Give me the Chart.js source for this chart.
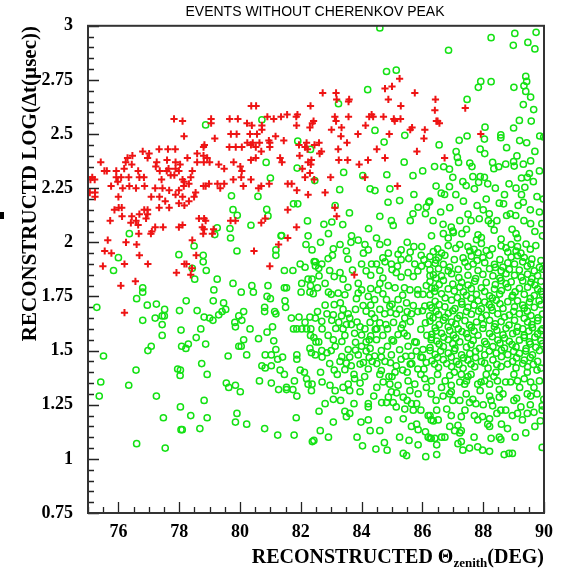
<!DOCTYPE html>
<html><head><meta charset="utf-8">
<script src="https://cdn.jsdelivr.net/npm/chart.js@4.4.1/dist/chart.umd.min.js"></script>
<style>html,body{margin:0;padding:0;background:#fff;}canvas{display:block;}</style>
</head><body>
<canvas id="c" width="562" height="573"></canvas>
<script>
const chartTitle = "EVENTS WITHOUT CHERENKOV PEAK";
const yTitle = "RECONSTRUCTD LOG(\u0394t(\u00b5sec))";
const xTitleMain = "RECONSTRUCTED \u0398";
const xTitleSub = "zenith";
const xTitleEnd = "(DEG)";
const xTicks = [76, 78, 80, 82, 84, 86, 88, 90];
const xTickLabels = ["76", "78", "80", "82", "84", "86", "88", "90"];
const yTicks = [0.75, 1, 1.25, 1.5, 1.75, 2, 2.25, 2.5, 2.75, 3];
const yTickLabels = ["0.75", "1", "1.25", "1.5", "1.75", "2", "2.25", "2.5", "2.75", "3"];

// Red crosses: events with short reconstructed delay (upper-left band)
const redUpper = [
[80.37,2.63],[80.53,2.63],[82.32,2.63],[77.83,2.57],[78.11,2.56],[79.05,2.57],[79.05,2.55],[79.66,2.57],[79.93,2.57],
[80.23,2.55],[80.39,2.54],[80.9,2.58],[81.11,2.57],[81.35,2.58],[81.55,2.59],[81.85,2.58],[81.89,2.59],[81.86,2.54],
[80.72,2.54],[80.72,2.52],[78.16,2.49],[79.17,2.48],[79.7,2.50],[79.89,2.50],[80.33,2.50],[80.56,2.50],[80.24,2.46],
[80.42,2.46],[80.64,2.46],[80.95,2.47],[81.17,2.49],[81.44,2.47],[82.19,2.46],[82.45,2.45],[78.83,2.45],[78.8,2.44],
[79.65,2.44],[79.86,2.44],[80.06,2.44],[80.36,2.45],[80.52,2.44],[80.7,2.42],[80.98,2.44],[80.98,2.46],[81.32,2.39],
[81.38,2.37],[81.94,2.45],[82.14,2.44],[81.96,2.40],[82.24,2.37],[82.35,2.38]
];
const redMiddle = [
[76.46,2.40],[76.3,2.39],[76.44,2.36],[76.24,2.37],[76.8,2.42],[77.01,2.41],[76.96,2.39],[77.34,2.43],[77.63,2.43],
[77.87,2.43],[77.26,2.37],[77.23,2.35],[77.6,2.38],[77.65,2.34],[77.88,2.37],[78.03,2.36],[77.88,2.34],[78.27,2.39],
[78.59,2.41],[78.59,2.37],[78.43,2.33],[78.8,2.40],[78.92,2.39],[79.0,2.37],[78.81,2.37],[79.3,2.36],[79.48,2.34],
[79.79,2.37],[80.01,2.35],[80.06,2.33],[80.36,2.38],[80.52,2.39],[75.42,2.37],[75.54,2.33],[75.62,2.33],[75.22,2.29],
[75.14,2.30],[75.08,2.29],[75.06,2.23],[75.93,2.33],[75.93,2.30],[76.19,2.34],[76.09,2.30],[76.34,2.30],[76.65,2.33],
[76.69,2.30],[76.84,2.30],[77.36,2.33],[77.42,2.29],[77.59,2.33],[77.72,2.31],[77.99,2.33],[78.11,2.29],[78.16,2.28],
[77.84,2.31],[78.38,2.30],[78.32,2.27],[78.8,2.26],[78.87,2.26],[78.98,2.27],[79.26,2.27],[79.48,2.27],[79.35,2.25],
[79.78,2.29],[80.04,2.30],[80.11,2.26],[80.36,2.29],[80.61,2.25],[80.7,2.26],[80.96,2.27],[81.57,2.27],[81.7,2.27],
[82.24,2.22],[75.76,2.26],[75.98,2.28],[76.14,2.25],[76.36,2.26],[76.58,2.25],[76.86,2.26],[77.08,2.21],[77.21,2.25],
[77.45,2.25],[77.35,2.21],[77.54,2.19],[77.67,2.24],[77.99,2.24],[78.15,2.26],[77.88,2.22],[78.49,2.21],[78.54,2.23],
[78.11,2.21],[75.23,2.23],[75.23,2.21]
];
const redLower = [
[76.0,2.21],[76.11,2.16],[76.01,2.16],[75.87,2.15],[76.12,2.12],[75.73,2.10],[76.44,2.12],[76.69,2.13],[76.58,2.10],
[76.85,2.15],[76.96,2.13],[76.41,2.09],[76.65,2.08],[77.07,2.04],[77.1,2.05],[76.67,2.04],[76.25,2.00],[76.6,1.99],
[76.91,2.11],[76.96,2.15],[77.34,2.16],[77.47,2.07],[77.21,2.07],[77.67,2.16],[77.99,2.18],[77.99,2.07],[78.11,2.08],
[78.32,2.19],[78.17,2.17],[78.65,2.11],[78.82,2.11],[78.87,2.10],[78.76,2.07],[78.82,2.06],[78.79,2.04],[79.09,2.04],
[79.13,2.06],[79.69,2.10],[79.85,2.10],[80.7,2.09],[80.83,2.11],[75.65,2.01],[75.55,1.96],[75.77,1.95],[75.49,1.89],
[76.2,1.90],[76.08,1.80],[76.56,1.82],[76.69,1.94],[76.97,1.90],[78.43,2.01],[78.56,1.94],[78.17,1.90],[77.91,1.86],
[78.42,1.88],[78.24,1.90],[78.38,1.85],[76.2,1.675],[80.46,1.96],[80.98,1.89],[81.27,1.99],[81.57,2.02],[81.86,2.07],
[81.57,2.15],[81.87,2.24],[82.14,2.30],[82.05,2.34]
];
const redRight = [
[85.25,2.756],[85.0,2.72],[84.77,2.71],[85.75,2.69],[84.88,2.66],[85.29,2.63],[86.43,2.66],[86.41,2.61],[86.5,2.56],
[86.56,2.55],[86.46,2.56],[87.41,2.62],[82.72,2.69],[83.16,2.69],[83.18,2.66],[83.59,2.66],[83.57,2.65],[83.12,2.58],
[83.16,2.56],[83.57,2.58],[82.42,2.56],[82.38,2.55],[82.3,2.53],[83.01,2.52],[83.34,2.53],[83.32,2.49],[83.52,2.46],
[83.88,2.50],[84.25,2.58],[84.33,2.59],[84.38,2.58],[84.13,2.54],[84.72,2.58],[85.06,2.57],[85.28,2.57],[85.09,2.56],
[84.91,2.50],[85.6,2.52],[85.66,2.53],[86.08,2.52],[86.05,2.48],[82.22,2.43],[82.6,2.46],[82.68,2.42],[82.62,2.41],
[82.33,2.36],[82.3,2.32],[82.44,2.29],[82.98,2.30],[82.8,2.23],[83.23,2.43],[83.25,2.38],[83.54,2.38],[83.92,2.36],
[84.21,2.38],[84.5,2.43],[84.77,2.39],[84.11,2.30],[85.18,2.26],[85.82,2.42],[86.73,2.39],[87.92,2.50],[83.12,2.16],
[83.18,2.12],[83.76,1.85]
];

// Green open circles
const greenLeft = [
[78.87,2.542],[80.72,2.566],[81.9,2.468],[82.32,2.429],[82.46,2.285],[81.88,2.343],[80.86,2.369],[81.0,2.297],
[79.72,2.215],[80.59,2.212],[79.77,2.151],[79.91,2.125],[80.88,2.152],[80.92,2.122],[81.76,2.178],[81.9,2.178],
[79.25,2.067],[79.17,2.036],[79.67,2.064],[80.36,2.079],[81.37,2.031],[82.22,2.099],[82.24,2.03],[78.49,1.983],
[77.99,1.943],[76.36,2.04],[76.0,1.929],[82.44,1.911],[82.48,1.891],[82.41,1.763],
[75.84,1.87],[76.8,1.79],[76.8,1.77],[76.6,1.74],[76.95,1.71],[77.25,1.715],[77.52,1.69],[77.51,1.66],[77.44,1.66],
[76.8,1.64],[77.21,1.65],[77.44,1.62],[77.44,1.57],[77.08,1.52],[76.97,1.50],[75.29,1.70],[75.51,1.475],[76.58,1.41],
[76.34,1.34],[75.42,1.355],[75.37,1.29],[77.25,1.29],[76.6,1.07],[77.54,1.05],[77.48,1.19],[78.04,1.24],[78.38,1.20],
[78.06,1.135],[78.1,1.135],[78.68,1.14],[77.95,1.415],[78.04,1.41],[78.03,1.385],[78.06,1.595],[78.08,1.52],[78.22,1.51],
[78.3,1.53],[78.01,1.685],[78.23,1.73],[78.59,1.685],[78.56,1.56],[78.51,1.83],[78.43,1.88]
];
const greenCentre = [
[79.69,2.02],[79.9,1.96],[78.79,1.94],[78.79,1.91],[78.89,1.87],[79.25,1.83],[79.14,1.78],[79.12,1.73],[79.46,1.72],
[79.53,1.69],[79.41,1.68],[79.3,1.665],[78.82,1.655],[79.0,1.65],[79.11,1.64],[78.71,1.60],[78.87,1.53],[78.74,1.44],
[78.92,1.39],[78.82,1.27],[78.92,1.19],[79.77,1.81],[80.04,1.77],[80.39,1.80],[80.44,1.77],[80.92,1.80],[80.89,1.75],
[81.0,1.74],[80.81,1.70],[80.81,1.68],[81.14,1.68],[81.18,1.67],[80.12,1.68],[79.96,1.66],[80.06,1.64],[79.83,1.63],
[79.85,1.61],[80.33,1.60],[81.07,1.61],[80.89,1.585],[80.61,1.555],[80.12,1.55],[80.04,1.52],[79.96,1.52],[80.22,1.48],
[79.61,1.475],[81.11,1.545],[81.18,1.505],[80.83,1.48],[81.03,1.48],[81.24,1.46],[81.4,1.47],[80.72,1.43],[80.83,1.42],
[81.03,1.43],[81.32,1.41],[81.46,1.39],[80.64,1.36],[81.03,1.35],[81.27,1.32],[81.53,1.32],[81.74,1.32],[81.87,1.29],
[81.79,1.36],[79.55,1.35],[79.63,1.33],[79.85,1.34],[80.01,1.31],[79.9,1.21],[79.85,1.17],[80.22,1.16],[80.81,1.14],
[81.24,1.11],[81.78,1.11],[81.85,1.19],[82.38,1.08],[81.35,2.03],[81.18,1.965],[81.18,1.94],[81.46,1.87],[81.74,1.87],
[81.46,1.79],[81.53,1.79],[81.98,1.90],[82.14,1.885],[82.17,1.99],[82.24,1.83],[82.03,1.81],[82.01,1.77],[82.3,1.77],
[81.48,1.73],[81.5,1.70],[81.69,1.65],[81.94,1.655],[82.14,1.63],[82.3,1.655],[81.76,1.60],[81.87,1.60],[82.03,1.60],
[82.19,1.60],[82.33,1.60],[82.3,1.51],[82.35,1.49],[81.87,1.48],[81.87,1.46],[81.98,1.41],[82.12,1.40],[82.19,1.37],
[82.24,1.345],[81.53,1.33]
];
const greenMidUpper = [
[82.91,2.04],[82.37,1.965],[83.07,1.97],[83.04,1.94],[83.29,1.99],[83.67,2.03],[83.65,2.0],[83.89,2.01],[84.11,1.99],
[84.22,1.965],[84.06,1.95],[84.49,2.02],[84.6,1.99],[84.88,1.95],[85.2,1.945],[85.3,1.965],[85.72,1.98],[85.98,1.98],
[85.96,1.94],[82.48,1.91],[82.69,1.90],[82.59,1.88],[83.29,1.86],[83.39,1.83],[84.0,1.90],[84.33,1.90],[84.49,1.90],
[84.77,1.91],[84.98,1.90],[85.18,1.89],[85.3,1.92],[85.75,1.90],[85.97,1.89],[86.19,1.90],[82.37,1.83],[82.32,1.80],
[82.8,1.81],[82.91,1.77],[83.23,1.765],[83.89,1.81],[84.0,1.78],[83.89,1.765],[83.83,1.74],[84.22,1.75],[84.43,1.735],
[84.6,1.81],[84.7,1.835],[84.88,1.80],[84.54,1.78],[85.14,1.86],[85.3,1.84],[85.53,1.86],[85.41,1.79],[85.59,1.78],
[85.85,1.78],[86.13,1.80],[86.02,1.76],[84.82,1.735],[85.2,1.735],[85.48,1.72],[83.39,1.69],[83.56,1.67],[83.34,1.66],
[83.61,1.65],[82.48,1.65],[82.69,1.635],[82.86,1.67],[83.07,1.665],[83.02,1.64],[82.32,1.57],[82.43,1.56],[83.39,1.60],
[83.45,1.57],[83.66,1.62],[83.77,1.58],[83.95,1.61],[84.11,1.60],[84.28,1.63],[84.33,1.67],[84.43,1.65],[84.6,1.69],
[84.76,1.67],[84.93,1.705],[85.14,1.67],[85.25,1.69],[85.42,1.65],[85.64,1.67],[85.85,1.68],[86.08,1.705],[86.24,1.66],
[82.59,1.54],[82.69,1.50],[82.48,1.48],[82.86,1.49],[83.07,1.55],[83.13,1.52],[83.29,1.45],[83.56,1.505],[83.61,1.47],
[83.66,1.43],[83.89,1.48],[84.06,1.445],[84.22,1.415],[84.28,1.51],[84.43,1.475],[84.49,1.55],[84.77,1.45],[84.98,1.48],
[85.14,1.43],[85.3,1.46],[85.53,1.52],[85.64,1.475],[85.85,1.415],[86.02,1.505],[86.13,1.445],[86.29,1.55]
];
const greenMidExtra = [
[82.65,2.0],[84.85,2.0],[85.5,2.0],[83.5,1.96],[85.6,1.955],[82.9,1.925],[83.55,1.922],[84.7,1.928],[85.55,1.925],
[86.05,1.92],[82.95,1.87],[83.7,1.872],[84.15,1.868],[84.6,1.87],[85.0,1.874],[85.85,1.868],[82.6,1.845],[83.1,1.842],
[84.3,1.848],[85.7,1.842],[86.25,1.846],[82.55,1.79],[83.55,1.792],[84.3,1.786],[85.1,1.79],[86.3,1.788],[83.0,1.76],
[83.45,1.758],[84.7,1.762],[85.35,1.756],[85.85,1.76],[82.8,1.71],[83.1,1.712],[84.05,1.708],[84.3,1.71],[85.0,1.714],
[85.7,1.708],[86.25,1.71],[82.55,1.68],[84.15,1.682],[84.95,1.676],[85.5,1.68],[86.0,1.684],[83.25,1.63],[83.85,1.632],
[84.6,1.628],[85.05,1.63],[85.6,1.634],[86.1,1.628],[82.7,1.6],[83.15,1.602],[84.45,1.598],[84.85,1.6],[85.3,1.604],
[85.95,1.598],[82.9,1.57],[84.0,1.572],[84.3,1.568],[84.7,1.57],[85.2,1.574],[85.5,1.568],[86.15,1.57],[82.5,1.54],
[83.35,1.542],[83.8,1.538],[84.15,1.54],[85.05,1.544],[85.8,1.538],[83.0,1.5],[83.8,1.502],[84.15,1.498],[84.65,1.5],
[85.25,1.504],[85.8,1.498],[86.25,1.5],[82.7,1.47],[83.35,1.472],[84.25,1.468],[84.65,1.47],[85.45,1.474],[86.0,1.468],
[82.95,1.44],[83.5,1.442],[83.95,1.438],[84.5,1.44],[84.95,1.444],[85.6,1.438],[83.1,1.41],[83.45,1.412],[84.65,1.408],
[85.35,1.41],[86.05,1.414],
[83.3,1.72],[83.8,1.69],[84.5,1.60],[85.0,1.55],[85.4,1.58],[85.75,1.54],[84.85,1.52],[84.35,1.45],[83.75,1.39],
[84.0,1.52],[85.1,1.40],[85.65,1.44],[85.95,1.47],[84.8,1.62],[83.5,1.62],[84.25,1.55],[85.35,1.62],[84.9,1.38],
[83.95,1.35],[85.5,1.40]
];
const greenMidLower = [
[82.65,1.40],[82.7,1.355],[82.37,1.345],[82.35,1.315],[82.96,1.34],[83.13,1.315],[83.39,1.33],[83.56,1.345],[83.61,1.315],
[83.77,1.37],[82.8,1.255],[83.07,1.275],[83.31,1.27],[83.75,1.255],[83.45,1.22],[83.61,1.21],[83.5,1.195],[84.22,1.255],
[84.22,1.24],[83.07,1.17],[82.64,1.13],[82.43,1.085],[82.91,1.10],[83.98,1.17],[84.22,1.18],[84.28,1.13],[84.03,1.06],
[84.47,1.045],[84.75,1.075],[84.84,1.04],[84.88,1.18],[85.37,1.025],[85.48,1.015],[85.56,1.085],[85.86,1.065],[86.11,1.01],
[85.37,1.185],[85.64,1.15],[85.86,1.135],[85.81,1.16],[86.1,1.125],[86.19,1.10],[86.29,1.095],[84.5,1.33],[84.71,1.355],
[84.93,1.345],[84.98,1.31],[84.88,1.285],[85.2,1.34],[85.37,1.285],[85.53,1.36],[85.59,1.315],[85.75,1.345],[85.86,1.30],
[86.08,1.37],[86.13,1.33],[84.66,1.26],[84.82,1.26],[85.04,1.26],[85.14,1.24],[85.42,1.23],[85.64,1.255],[85.81,1.255],
[85.7,1.225],[86.19,1.20],[86.29,1.18],[86.29,1.30],
[82.6,1.22],[83.2,1.39],[83.95,1.31],[84.1,1.38],[84.4,1.29],[84.6,1.39],[85.0,1.38],[85.15,1.305],[85.5,1.27],
[85.95,1.39],[85.25,1.10],[84.6,1.13],[83.85,1.10],[85.95,1.225]
];
const greenRightLower = [
[86.3,1.36],[86.63,1.33],[86.9,1.385],[86.95,1.34],[86.95,1.31],[87.23,1.355],[87.28,1.39],[87.39,1.345],[87.5,1.38],
[87.6,1.39],[87.82,1.345],[87.93,1.355],[88.1,1.39],[88.21,1.345],[88.42,1.40],[88.47,1.36],[88.53,1.32],[88.74,1.355],
[88.9,1.355],[89.01,1.39],[89.13,1.36],[89.35,1.37],[89.45,1.40],[89.56,1.355],[89.67,1.33],[89.77,1.41],
[86.68,1.29],[86.9,1.30],[87.0,1.27],[87.23,1.27],[87.44,1.30],[87.55,1.26],[87.66,1.275],[87.76,1.255],[88.21,1.29],
[88.26,1.27],[88.31,1.245],[88.53,1.285],[88.58,1.225],[88.74,1.225],[89.01,1.27],[89.24,1.24],[89.56,1.29],[89.77,1.30],
[89.94,1.245],[89.99,1.275],[86.25,1.20],[86.47,1.225],[86.52,1.18],[86.36,1.175],[86.9,1.15],[87.06,1.13],[87.17,1.155],
[87.28,1.13],[87.23,1.12],[87.28,1.195],[87.71,1.20],[87.82,1.18],[87.98,1.195],[88.21,1.185],[88.15,1.16],[88.21,1.15],
[88.8,1.14],[88.96,1.20],[89.13,1.21],[89.29,1.18],[89.45,1.21],[89.67,1.215],[89.88,1.175],[89.94,1.225],[86.25,1.095],
[86.41,1.095],[86.63,1.10],[86.47,1.065],[86.74,1.10],[87.17,1.07],[87.28,1.08],[87.33,1.04],[87.55,1.05],[87.82,1.055],
[87.98,1.04],[88.21,1.035],[88.26,1.095],[88.53,1.10],[88.58,1.09],[88.69,1.02],[88.85,1.025],[88.96,1.025],[89.94,1.053],
[86.47,1.02],
[86.5,1.39],[86.75,1.36],[87.05,1.40],[87.45,1.36],[87.9,1.315],[88.05,1.36],[88.35,1.38],[88.65,1.30],[89.2,1.33],
[89.45,1.30],[89.85,1.36],[86.45,1.27],[86.8,1.23],[87.4,1.225],[88.0,1.25],[88.45,1.21],[89.1,1.28],[89.55,1.25],
[89.7,1.15],[88.6,1.16],[86.95,1.20],[89.05,1.10],[89.4,1.12],[87.7,1.10]
];
const greenRightDense = [
[86.69,2.04],[87.02,2.045],[87.83,2.035],[89.08,2.04],[89.95,2.03],[86.85,2.02],[87.78,2.012],[87.94,2.022],[88.59,2.015],
[89.13,2.02],[86.85,1.985],[87.23,1.99],[87.5,1.98],[87.94,1.995],[88.59,1.984],[88.92,1.99],[89.13,1.98],[89.41,1.992],
[89.73,1.985],[86.36,1.957],[86.63,1.95],[87.56,1.96],[87.83,1.952],[88.1,1.962],[88.81,1.955],[89.08,1.96],[89.24,1.95],
[86.25,1.934],[86.53,1.93],[86.74,1.94],[87.34,1.928],[87.61,1.936],[87.99,1.93],[88.21,1.94],[88.92,1.932],[89.13,1.938],
[89.35,1.93],[86.42,1.903],[86.69,1.898],[87.4,1.908],[87.67,1.90],[88.05,1.906],[88.37,1.898],[88.81,1.905],[89.03,1.90],
[89.3,1.91],[89.57,1.90],[86.25,1.873],[86.53,1.878],[86.85,1.868],[87.18,1.875],[87.83,1.87],[88.21,1.878],[88.59,1.868],
[88.86,1.875],[89.19,1.872],[89.68,1.868],[89.95,1.876],[86.36,1.85],[86.63,1.845],[86.96,1.855],[87.5,1.848],[87.99,1.852],
[88.32,1.845],[88.75,1.855],[89.03,1.848],[89.46,1.853],[89.79,1.846],[86.25,1.819],[86.69,1.824],[87.29,1.815],[87.72,1.82],
[88.1,1.815],[88.59,1.823],[88.92,1.817],[89.3,1.822],[89.57,1.815],[89.9,1.82],[86.42,1.789],[86.85,1.785],[87.23,1.793],
[87.61,1.786],[87.94,1.79],[88.37,1.784],[88.81,1.792],[89.19,1.787],[89.46,1.793],[89.79,1.785],[86.25,1.758],[86.63,1.762],
[87.45,1.755],[87.78,1.76],[88.21,1.753],[88.54,1.761],[88.97,1.755],[89.35,1.76],[89.68,1.754],[89.95,1.76],[86.42,1.728],
[86.96,1.733],[87.29,1.725],[87.83,1.73],[88.05,1.724],[88.43,1.732],[88.81,1.726],[89.13,1.73],[89.52,1.724],[89.84,1.73],
[86.31,1.697],[86.74,1.702],[87.07,1.694],[87.5,1.70],[87.94,1.693],[88.27,1.70],[88.65,1.695],[89.03,1.702],[89.35,1.696],
[89.68,1.70],[86.53,1.666],[86.85,1.672],[87.23,1.662],[87.61,1.668],[88.1,1.663],[88.48,1.67],[88.86,1.664],[89.19,1.67],
[89.57,1.662],[89.95,1.668],[86.25,1.636],[86.69,1.64],[86.96,1.632],[87.4,1.638],[87.78,1.632],[88.21,1.64],[88.59,1.634],
[89.03,1.64],[89.46,1.632],[89.79,1.638],[86.42,1.605],[86.85,1.61],[87.18,1.60],[87.61,1.607],[87.99,1.602],[88.37,1.61],
[88.75,1.603],[89.13,1.608],[89.3,1.60],[89.62,1.606],[89.95,1.601],[86.31,1.575],[86.63,1.58],[87.02,1.572],[87.45,1.578],
[87.83,1.571],[88.21,1.579],[88.65,1.573],[88.97,1.578],[89.35,1.57],[89.79,1.577],[86.47,1.544],[86.85,1.55],[87.23,1.54],
[87.67,1.547],[88.05,1.541],[88.48,1.549],[88.86,1.543],[89.19,1.548],[89.52,1.54],[89.9,1.546],[86.25,1.514],[86.69,1.518],
[87.07,1.51],[87.45,1.516],[87.88,1.51],[88.32,1.518],[88.7,1.512],[89.08,1.517],[89.41,1.509],[89.73,1.515],[86.42,1.483],
[86.85,1.488],[87.29,1.48],[87.56,1.486],[88.05,1.48],[88.43,1.488],[88.81,1.481],[89.19,1.487],[89.62,1.48],[86.31,1.453],
[86.69,1.458],[87.12,1.45],[87.5,1.456],[87.94,1.449],[88.32,1.457],[88.97,1.45],[89.35,1.456],[89.79,1.45],[86.53,1.422],
[86.96,1.426],[87.34,1.418],[87.72,1.425],[88.16,1.419],[88.59,1.426],[89.08,1.42],[89.46,1.425],[89.9,1.419]
];
const greenRightExtra = [
[86.5,1.97],[87.1,1.972],[87.7,1.968],[88.3,1.97],[88.75,1.974],[89.55,1.968],[86.45,1.918],[87.05,1.92],[87.8,1.916],
[88.55,1.92],[89.6,1.922],[89.9,1.916],[86.9,1.886],[87.5,1.888],[88.4,1.884],[88.65,1.886],[89.45,1.89],[89.85,1.884],
[86.45,1.835],[87.2,1.837],[87.75,1.833],[88.55,1.835],[89.25,1.839],[89.6,1.833],[86.55,1.805],[87.0,1.807],[87.5,1.803],
[88.4,1.805],[88.75,1.809],[89.7,1.803],[86.4,1.773],[87.05,1.775],[87.35,1.771],[88.05,1.773],[88.6,1.777],[89.05,1.771],
[89.9,1.773],[86.75,1.743],[87.15,1.745],[87.6,1.741],[88.3,1.743],[88.95,1.747],[89.55,1.741],[86.55,1.712],[87.3,1.714],
[87.7,1.71],[88.2,1.712],[88.55,1.716],[89.3,1.71],[89.9,1.712],[86.45,1.682],[87.0,1.684],[87.45,1.68],[87.85,1.682],
[88.3,1.686],[89.0,1.68],[89.45,1.682],[86.35,1.651],[86.75,1.653],[87.15,1.649],[87.95,1.651],[88.7,1.655],[89.35,1.649],
[89.8,1.651],[86.55,1.62],[87.1,1.622],[87.55,1.618],[88.0,1.62],[88.4,1.624],[88.85,1.618],[89.6,1.62],[86.45,1.59],
[86.9,1.592],[87.3,1.588],[87.7,1.59],[88.45,1.594],[89.1,1.588],[89.5,1.59],[89.9,1.592],[86.3,1.56],[86.7,1.562],
[87.1,1.558],[87.5,1.56],[88.3,1.564],[88.7,1.558],[89.35,1.56],[89.7,1.562],[86.55,1.53],[87.0,1.532],[87.6,1.528],
[88.1,1.53],[88.55,1.534],[88.95,1.528],[89.55,1.53],[89.95,1.532],[86.6,1.498],[87.05,1.5],[87.75,1.496],[88.2,1.498],
[88.6,1.502],[89.0,1.496],[89.4,1.498],[89.85,1.5],[86.5,1.468],[86.95,1.47],[87.35,1.466],[87.75,1.468],[88.6,1.472],
[89.1,1.466],[89.55,1.468],[86.4,1.438],[86.8,1.44],[87.2,1.436],[87.6,1.438],[88.05,1.442],[88.45,1.436],[88.8,1.438],
[89.3,1.44],[89.65,1.436]
];
const greenUpperRight = [
[84.6,2.99],[88.26,2.945],[89.04,2.965],[89.74,2.97],[88.99,2.91],[89.47,2.923],[89.7,2.893],[86.86,2.887],[84.82,2.789],
[85.14,2.795],[84.2,2.705],[87.92,2.743],[87.84,2.716],[88.26,2.742],[87.47,2.66],[83.24,2.64],[89.4,2.766],[89.43,2.743],
[89.34,2.723],[89.4,2.697],[89.56,2.671],[89.01,2.716],[89.32,2.636],[89.66,2.613],[89.19,2.563],[89.58,2.56],[89.0,2.528],
[88.06,2.532],[88.04,2.477],[88.58,2.496],[88.58,2.483],[87.47,2.491],[87.21,2.471],[88.77,2.437],[89.43,2.46],[89.86,2.491],
[89.99,2.486],[84.44,2.517],[84.74,2.463],[85.42,2.494],[87.11,2.419],[87.15,2.392],[87.19,2.369],[87.56,2.366],[87.63,2.35],
[86.7,2.349],[86.89,2.338],[88.31,2.369],[88.51,2.349],[88.74,2.361],[89.0,2.373],[89.11,2.399],[89.02,2.352],[89.32,2.361],
[89.56,2.376],[89.52,2.318],[89.45,2.3],[89.26,2.297],[87.66,2.303],[87.9,2.303],[88.04,2.3],[87.85,2.277],[87.33,2.28],
[87.44,2.262],[87.71,2.247],[86.89,2.257],[86.62,2.227],[86.73,2.221],[88.4,2.25],[89.08,2.25],[89.37,2.254],[89.26,2.22],
[89.77,2.211],[89.98,2.2],[89.32,2.185],[88.89,2.132],[88.53,2.181],[88.67,2.178],[85.69,2.308],[86.01,2.33],[84.83,2.312],
[85.72,2.221],[86.24,2.19],[85.86,2.162],[83.41,2.323],[84.04,2.308],[84.28,2.247],[84.44,2.239],[83.28,2.243],[84.93,2.247],
[85.25,2.193],[84.87,2.185],[83.13,2.17],[83.6,2.136],[83.02,2.094],[83.38,2.082],[82.76,2.083],[84.98,2.1],[85.04,2.078],
[85.69,2.132],[86.1,2.132],[86.21,2.185],[86.13,2.163],[86.35,2.1],[86.68,2.083],[87.0,2.052],[87.23,2.1],[87.6,2.1],
[87.87,2.109],[88.17,2.1],[88.2,2.132],[88.26,2.086],[88.36,2.056],[88.77,2.124],[89.07,2.124],[89.34,2.1],[89.56,2.086],
[89.93,2.086],[84.23,2.063],
[86.45,2.26],[86.9,2.16],[87.35,2.19],[87.8,2.17],[88.1,2.2],[88.85,2.27],[89.65,2.28],[89.85,2.14],[89.55,2.15],
[88.35,2.34],[88.05,2.41],[85.4,2.37],[85.6,2.1],[84.6,2.12],[86.55,2.45],[89.2,2.47],[87.9,2.43],[86.95,2.07],[87.45,2.06],
[86.3,2.03],[86.6,2.14],[87.1,2.22],[87.5,2.13],[88.0,2.15],[88.45,2.10],[88.7,2.22],[89.15,2.17],[89.7,2.05],
[89.85,2.33],[88.15,2.27],[87.0,2.30],[86.4,2.35],[89.7,2.42],[88.95,2.06],[87.3,2.04]
];

const redData = [].concat(redUpper, redMiddle, redLower, redRight).map(p => ({x: p[0], y: p[1]}));
const greenData = [].concat(greenLeft, greenCentre, greenMidUpper, greenMidExtra, greenMidLower, greenRightLower,
  greenRightDense, greenRightExtra, greenUpperRight).map(p => ({x: p[0], y: p[1]}));

const SERIF = '"Liberation Serif", "DejaVu Serif", serif';
const SANS = '"Liberation Sans", Arial, sans-serif';

const decor = {
  id: 'decor',
  beforeDatasetsDraw(chart) {
    const {ctx, chartArea: a, scales: {x, y}} = chart;
    ctx.save();
    ctx.strokeStyle = '#222';
    ctx.lineWidth = 1.3;
    ctx.beginPath();
    for (let i = 0; i <= 30; i++) {
      const v = 75 + i * 0.5;
      const px = Math.round(x.getPixelForValue(v)) + 0.5;
      const len = (v % 2 === 0) ? 11 : 6;
      ctx.moveTo(px, a.bottom); ctx.lineTo(px, a.bottom - len);
    }
    for (let i = 0; i <= 45; i++) {
      const v = 0.75 + i * 0.05;
      const py = Math.round(y.getPixelForValue(v)) + 0.5;
      const major = Math.abs(((v - 0.75) / 0.25) - Math.round((v - 0.75) / 0.25)) < 1e-6;
      const len = major ? 11 : 6;
      ctx.moveTo(a.left, py); ctx.lineTo(a.left + len, py);
    }
    ctx.stroke();
    ctx.restore();
  },
  afterDraw(chart) {
    const {ctx, chartArea: a} = chart;
    ctx.save();
    ctx.strokeStyle = '#333';
    ctx.lineWidth = 2;
    ctx.strokeRect(a.left, a.top, a.right - a.left, a.bottom - a.top);
    ctx.fillStyle = '#000';
    ctx.font = '14px ' + SANS;
    ctx.textAlign = 'center';
    ctx.textBaseline = 'middle';
    ctx.fillText(chartTitle, 315, 12);
    ctx.save();
    ctx.font = 'bold 21px ' + SERIF;
    ctx.translate(31, 26);
    ctx.rotate(-Math.PI / 2);
    ctx.textAlign = 'right';
    ctx.textBaseline = 'middle';
    ctx.fillText(yTitle, 0, 0);
    ctx.restore();
    const big = 'bold 20px ' + SERIF, small = 'bold 13px ' + SERIF;
    ctx.textAlign = 'left';
    ctx.textBaseline = 'alphabetic';
    ctx.font = big; const w1 = ctx.measureText(xTitleMain).width; const w3 = ctx.measureText(xTitleEnd).width;
    ctx.font = small; const w2 = ctx.measureText(xTitleSub).width;
    let sx = a.right - (w1 + w2 + w3);
    const base = 563;
    ctx.font = big; ctx.fillText(xTitleMain, sx, base); sx += w1;
    ctx.font = small; ctx.fillText(xTitleSub, sx, base + 4); sx += w2;
    ctx.font = big; ctx.fillText(xTitleEnd, sx, base);
    ctx.fillRect(0, 212, 4, 7);
    ctx.restore();
  }
};

new Chart(document.getElementById('c'), {
  type: 'scatter',
  data: {
    datasets: [
      {data: redData, pointStyle: 'cross', radius: 3.6, borderWidth: 2, borderColor: 'rgb(238,20,20)', backgroundColor: 'rgb(238,20,20)'},
      {data: greenData, pointStyle: 'circle', radius: 3.1, borderWidth: 1.5, borderColor: 'rgb(20,225,20)', backgroundColor: 'rgba(0,0,0,0)'}
    ]
  },
  options: {
    responsive: false,
    animation: false,
    devicePixelRatio: 1,
    layout: {padding: {top: 24, right: 15, left: 0, bottom: 0}},
    plugins: {legend: {display: false}, title: {display: false}, tooltip: {enabled: false}},
    scales: {
      x: {
        type: 'linear', min: 75, max: 90,
        afterBuildTicks: s => { s.ticks = xTicks.map(v => ({value: v})); },
        afterFit: s => { s.height = 60; },
        grid: {display: false, drawTicks: false},
        border: {display: false},
        ticks: {padding: 9, color: '#000', maxRotation: 0, autoSkip: false,
          font: {family: SERIF, size: 18, weight: 'bold'},
          callback: (v, i) => xTickLabels[i]}
      },
      y: {
        type: 'linear', min: 0.75, max: 3,
        afterBuildTicks: s => { s.ticks = yTicks.map(v => ({value: v})); },
        afterFit: s => { s.width = 88; },
        grid: {display: false, drawTicks: false},
        border: {display: false},
        ticks: {padding: 15, color: '#000', autoSkip: false,
          font: {family: SERIF, size: 18, weight: 'bold'},
          callback: (v, i) => yTickLabels[i]}
      }
    }
  },
  plugins: [decor]
});
</script>
</body></html>
